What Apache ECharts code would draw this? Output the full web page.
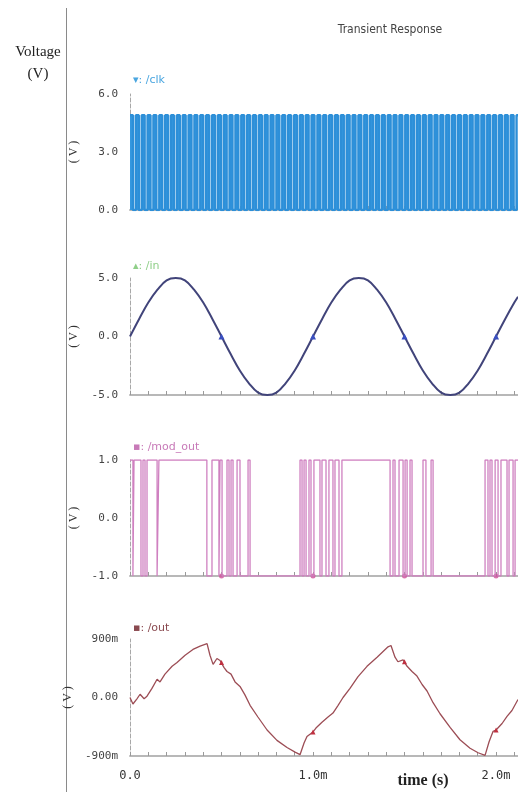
<!DOCTYPE html>
<html>
<head>
<meta charset="utf-8">
<script src="https://cdn.jsdelivr.net/npm/echarts@6/dist/echarts.min.js"></script>
<style>
  html, body { margin: 0; padding: 0; background: #fff; }
  #chart { width: 518px; height: 796px; }
</style>
</head>
<body>
<div id="chart"></div>
<script>
// Time axis in milliseconds
const xMax = 2.12;
const xTickLabels = { 0: '0.0', 1: '1.0m', 2: '2.0m' };

// /clk : toggle instants (ms), starts high
const clkHigh = 4.9;
const clkLow = 0;
const clkEdges = [
  0.016,0.032,0.048,0.064,0.080,0.096,0.112,0.128,0.144,0.160,
  0.176,0.192,0.208,0.224,0.240,0.256,0.272,0.288,0.304,0.320,
  0.336,0.352,0.368,0.384,0.400,0.416,0.432,0.448,0.464,0.480,
  0.496,0.512,0.528,0.544,0.560,0.576,0.592,0.608,0.624,0.640,
  0.656,0.672,0.688,0.704,0.720,0.736,0.752,0.768,0.784,0.800,
  0.816,0.832,0.848,0.864,0.880,0.896,0.912,0.928,0.944,0.960,
  0.976,0.992,1.008,1.024,1.040,1.056,1.072,1.088,1.104,1.120,
  1.136,1.152,1.168,1.184,1.200,1.216,1.232,1.248,1.264,1.280,
  1.296,1.312,1.328,1.344,1.360,1.376,1.392,1.408,1.424,1.440,
  1.456,1.472,1.488,1.504,1.520,1.536,1.552,1.568,1.584,1.600,
  1.616,1.632,1.648,1.664,1.680,1.696,1.712,1.728,1.744,1.760,
  1.776,1.792,1.808,1.824,1.840,1.856,1.872,1.888,1.904,1.920,
  1.936,1.952,1.968,1.984,2.000,2.016,2.032,2.048,2.064,2.080,
  2.096,2.112
];

// /in : sampled input sine (ms, V)
const inTime = [0,0.05,0.1,0.15,0.2,0.25,0.3,0.35,0.4,0.45,
  0.5,0.55,0.6,0.65,0.7,0.75,0.8,0.85,0.9,0.95,
  1.0,1.05,1.1,1.15,1.2,1.25,1.3,1.35,1.4,1.45,
  1.5,1.55,1.6,1.65,1.7,1.75,1.8,1.85,1.9,1.95,
  2.0,2.05,2.1,2.12];
const inVal = [0,1.5,2.9,4.0,4.8,5.0,4.8,4.0,2.9,1.5,
  0,-1.5,-2.9,-4.0,-4.8,-5.0,-4.8,-4.0,-2.9,-1.5,
  0,1.5,2.9,4.0,4.8,5.0,4.8,4.0,2.9,1.5,
  0,-1.5,-2.9,-4.0,-4.8,-5.0,-4.8,-4.0,-2.9,-1.5,
  0,1.5,2.9,3.4];

// waveform markers (ms)
const markerTimes = [0.5, 1.0, 1.5, 2.0];

// /mod_out : toggle instants (ms), starts high
const modHigh = 1;
const modLow = -1;
const modEdges = [
  0.016,0.022,0.060,0.071,0.082,0.093,0.148,0.158,0.420,
  0.448,0.486,0.492,0.503,0.530,0.541,0.552,0.563,0.585,0.601,
  0.645,0.656,0.929,0.940,0.951,0.962,0.978,0.989,1.005,1.038,
  1.049,1.071,1.087,1.109,1.120,1.142,1.158,1.421,1.437,1.448,
  1.470,1.492,1.503,1.514,1.530,1.541,1.601,1.617,1.645,1.656,
  1.940,1.956,1.967,1.978,1.995,2.011,2.027,2.060,2.071,2.093,
  2.104
];

// /out : integrator output (ms, V)
const outTime = [0,0.016,0.038,0.055,0.077,0.093,0.120,0.148,0.164,0.191,
  0.230,0.257,0.301,0.344,0.383,0.421,0.437,0.454,0.475,0.492,
  0.5,0.514,0.530,0.552,0.574,0.601,0.628,0.656,0.699,0.749,
  0.803,0.858,0.902,0.929,0.951,0.967,1.0,1.016,1.049,1.082,
  1.109,1.137,1.164,1.202,1.246,1.295,1.350,1.410,1.426,1.448,
  1.464,1.492,1.5,1.514,1.541,1.568,1.596,1.623,1.656,1.694,
  1.749,1.803,1.858,1.902,1.940,1.962,1.984,2.0,2.033,2.060,
  2.087,2.12];
const outVal = [0.00,-0.10,-0.02,0.05,-0.02,0.02,0.14,0.28,0.24,0.36,
  0.48,0.54,0.65,0.74,0.79,0.83,0.65,0.51,0.60,0.57,
  0.54,0.46,0.40,0.36,0.24,0.17,0.04,-0.12,-0.30,-0.50,
  -0.66,-0.77,-0.84,-0.88,-0.70,-0.60,-0.53,-0.47,-0.38,-0.30,
  -0.24,-0.12,0.00,0.14,0.32,0.48,0.62,0.78,0.80,0.62,
  0.55,0.58,0.55,0.48,0.40,0.33,0.20,0.10,-0.08,-0.25,
  -0.46,-0.65,-0.78,-0.85,-0.89,-0.68,-0.52,-0.50,-0.40,-0.29,
  -0.20,-0.03];

// Expand toggle instants into a square-wave polyline
function toSteps(edges, first, second, tEnd) {
  let lvl = first;
  const pts = [[0, lvl]];
  edges.forEach(t => {
    pts.push([t, lvl]);
    lvl = (lvl === first) ? second : first;
    pts.push([t, lvl]);
  });
  pts.push([tEnd, lvl]);
  return pts;
}

function isMarker(t) {
  return markerTimes.some(m => Math.abs(m - t) < 1e-9);
}

function withMarkers(times, vals, symbol, color, size) {
  return times.map((t, i) => {
    if (isMarker(t)) {
      return { value: [t, vals[i]], symbol: symbol, symbolSize: size,
               itemStyle: { color: color } };
    }
    return [t, vals[i]];
  });
}

const grids = [
  { left: 130, width: 388, top: 94,  height: 116 },
  { left: 130, width: 388, top: 278, height: 117 },
  { left: 130, width: 388, top: 460, height: 116 },
  { left: 130, width: 388, top: 639, height: 117 }
];

const monoFont = 'DejaVu Sans Mono';

function makeX(idx, showLabels) {
  return {
    type: 'value', gridIndex: idx, min: 0, max: xMax, interval: 0.1,
    axisLine: { show: true, onZero: false, lineStyle: { color: '#b8b8b8', width: 2 } },
    axisTick: { show: true, inside: true, length: 4, lineStyle: { color: '#9a9a9a' } },
    splitLine: { show: false },
    axisLabel: {
      show: showLabels, margin: 14, fontFamily: monoFont, fontSize: 12, color: '#333',
      showMaxLabel: false,
      formatter: v => {
        const r = Math.round(v);
        return Math.abs(v - r) < 1e-6 && xTickLabels[r] !== undefined ? xTickLabels[r] : '';
      }
    }
  };
}

function makeY(idx, min, max, interval, fmt) {
  return {
    type: 'value', gridIndex: idx, min: min, max: max, interval: interval,
    name: '( V )', nameLocation: 'middle', nameRotate: 90, nameGap: 50,
    nameTextStyle: { fontFamily: 'Liberation Serif', fontSize: 12, color: '#333' },
    axisLine: { show: true, onZero: false, lineStyle: { color: '#a8a8a8', width: 1, type: 'dashed' } },
    axisTick: { show: false },
    splitLine: { show: false },
    axisLabel: { margin: 12, fontFamily: monoFont, fontSize: 11, color: '#444', formatter: fmt }
  };
}

const fix1 = v => v.toFixed(1);
const milli = v => {
  const m = Math.round(v * 1000);
  return m === 0 ? '0.00' : m + 'm';
};

function tag(text, x, y, color) {
  return { type: 'text', x: x, y: y,
    style: { text: text, fill: color, font: '11px "DejaVu Sans"', verticalAlign: 'middle' } };
}

const chart = echarts.init(document.getElementById('chart'), null, { renderer: 'canvas' });

chart.setOption({
  animation: false,
  backgroundColor: '#fff',
  grid: grids,
  xAxis: [makeX(0, false), makeX(1, false), makeX(2, false), makeX(3, true)],
  yAxis: [
    makeY(0, 0, 6, 3, fix1),
    makeY(1, -5, 5, 5, fix1),
    makeY(2, -1, 1, 1, fix1),
    makeY(3, -0.9, 0.9, 0.9, milli)
  ],
  series: [
    {
      name: '/clk', type: 'line', xAxisIndex: 0, yAxisIndex: 0,
      data: toSteps(clkEdges, clkHigh, clkLow, xMax),
      symbol: 'none',
      lineStyle: { color: '#2d8fd8', width: 2.4 },
      areaStyle: { color: '#3598e0', opacity: 1 }
    },
    {
      name: '/in', type: 'line', xAxisIndex: 1, yAxisIndex: 1,
      data: withMarkers(inTime, inVal, 'triangle', '#3a4fc0', 6),
      smooth: 0.4, symbol: 'none', showSymbol: true,
      lineStyle: { color: '#41447a', width: 2 }
    },
    {
      name: '/mod_out', type: 'line', xAxisIndex: 2, yAxisIndex: 2,
      data: toSteps(modEdges, modHigh, modLow, xMax),
      symbol: 'none',
      lineStyle: { color: '#cf80c0', width: 1.3 }
    },
    {
      name: '/mod_out markers', type: 'scatter', xAxisIndex: 2, yAxisIndex: 2,
      data: markerTimes.map(t => [t, modLow]),
      symbol: 'circle', symbolSize: 5,
      itemStyle: { color: '#d0509a' }
    },
    {
      name: '/out', type: 'line', xAxisIndex: 3, yAxisIndex: 3,
      data: withMarkers(outTime, outVal, 'triangle', '#c03040', 5),
      symbol: 'none', showSymbol: true,
      lineStyle: { color: '#9c4d55', width: 1.3 }
    }
  ],
  graphic: [
    { type: 'line', shape: { x1: 66.5, y1: 8, x2: 66.5, y2: 792 },
      style: { stroke: '#8a8a8a', lineWidth: 1 } },
    { type: 'text', x: 38, y: 52,
      style: { text: 'Voltage', fill: '#222', font: '15px "Liberation Serif"', align: 'center', verticalAlign: 'middle' } },
    { type: 'text', x: 38, y: 74,
      style: { text: '(V)', fill: '#222', font: '15px "Liberation Serif"', align: 'center', verticalAlign: 'middle' } },
    { type: 'text', x: 390, y: 30,
      style: { text: 'Transient Response', fill: '#444', font: '12px "Liberation Sans Narrow", "DejaVu Sans Condensed", sans-serif', align: 'center', verticalAlign: 'middle' } },
    tag('\u25BE: /clk', 133, 80, '#4aa6e0'),
    tag('\u25B4: /in', 133, 266, '#8fcf88'),
    tag('\u25AA: /mod_out', 133, 447, '#c87ab8'),
    tag('\u25AA: /out', 133, 628, '#8a4a50'),
    { type: 'text', x: 423, y: 781,
      style: { text: 'time (s)', fill: '#222', font: 'bold 16px "Liberation Serif"', align: 'center', verticalAlign: 'middle' } }
  ]
});
</script>
</body>
</html>
